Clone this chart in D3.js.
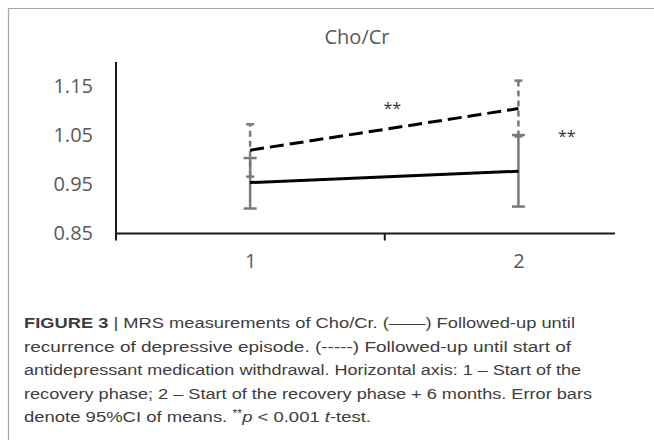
<!DOCTYPE html>
<html><head><meta charset="utf-8">
<script src="https://cdn.jsdelivr.net/npm/d3@7"></script>
<style>body{margin:0;background:#fff}svg{display:block}</style>
</head><body>
<script>
// ---- data ----
const timepoints = [1, 2];
const recurrenceMean = [0.954, 0.977];   // solid line
const recurrenceLow  = [0.901, 0.905];
const recurrenceHigh = [1.004, 1.051];
const withdrawalMean = [1.020, 1.105];   // dashed line
const withdrawalLow  = [0.966, 1.048];
const withdrawalHigh = [1.073, 1.162];
const yTicks = [0.85, 0.95, 1.05, 1.15];
const significance = [{x: 1.53, y: 1.094, label: "**"}, {x: 2.18, y: 1.036, label: "**"}];
const chartTitle = "Cho/Cr";

const W = 654, H = 440;
const svg = d3.select("body").append("svg").attr("width", W).attr("height", H);

// frame (top & left border)
svg.append("path").attr("d", "M8.5,440V8.5H654").attr("fill", "none")
  .attr("stroke", "#a6a6a6").attr("stroke-width", 1.2);

const x = d3.scaleLinear().domain([0.5, 2.36]).range([116, 615]);
const y = d3.scaleLinear().domain([0.85, 1.20]).range([233.5, 62]);

// title
svg.append("text").attr("x", 357).attr("y", 44).attr("text-anchor", "middle")
  .attr("font-family", "'Open Sans', sans-serif").attr("font-size", 20)
  .attr("fill", "#595959").text(chartTitle);

// y axis
const yAxis = svg.append("g").attr("transform", `translate(${x(0.5)},0)`)
  .call(d3.axisLeft(y).tickValues(yTicks).tickSize(0).tickPadding(23).tickFormat(d3.format(".2f")));
yAxis.select(".domain").attr("d", `M0,${y(1.20)}V${y(0.85) + 7}`).attr("stroke", "#1a1a1a").attr("stroke-width", 2);
yAxis.selectAll("text").attr("font-family", "'Open Sans', sans-serif").attr("font-size", 20).attr("fill", "#595959");

// x axis
const xAxis = svg.append("g").attr("transform", `translate(0,${y(0.85)})`)
  .call(d3.axisBottom(x).tickValues([1.5]).tickSize(7).tickFormat(""));
xAxis.select(".domain").attr("d", `M${x(0.5)},0H${x(2.36)}`).attr("stroke", "#1a1a1a").attr("stroke-width", 2);
xAxis.selectAll(".tick line").attr("stroke", "#1a1a1a").attr("stroke-width", 2);
const xLab = svg.append("g").attr("transform", `translate(0,${y(0.85)})`)
  .call(d3.axisBottom(x).tickValues(timepoints).tickSize(0).tickPadding(20).tickFormat(d3.format("d")));
xLab.select(".domain").remove();
xLab.selectAll("text").attr("font-family", "'Open Sans', sans-serif").attr("font-size", 20).attr("fill", "#595959");

// error bars
function errorBars(lo, hi, capW, dash) {
  const g = svg.append("g").attr("stroke", "#7a7a7a").attr("stroke-width", 2.5).attr("fill", "none");
  timepoints.forEach((t, i) => {
    g.append("line").attr("x1", x(t)).attr("x2", x(t)).attr("y1", y(lo[i])).attr("y2", y(hi[i]))
      .attr("stroke-dasharray", dash);
    [lo[i], hi[i]].forEach(v => g.append("line").attr("x1", x(t) - capW / 2).attr("x2", x(t) + capW / 2)
      .attr("y1", y(v)).attr("y2", y(v)));
  });
}
errorBars(withdrawalLow, withdrawalHigh, 8, "6,4");
errorBars(recurrenceLow, recurrenceHigh, 13, null);

// lines
const line = d3.line().x((d, i) => x(timepoints[i])).y(d => y(d));
svg.append("path").datum(recurrenceMean).attr("d", line).attr("fill", "none")
  .attr("stroke", "#000").attr("stroke-width", 3);
svg.append("path").datum(withdrawalMean).attr("d", line).attr("fill", "none")
  .attr("stroke", "#000").attr("stroke-width", 3).attr("stroke-dasharray", "14,6");

// significance marks
svg.selectAll(".sig").data(significance).enter().append("text")
  .attr("x", d => x(d.x)).attr("y", d => y(d.y)).attr("text-anchor", "middle")
  .attr("font-family", "'Open Sans', sans-serif").attr("font-size", 16).attr("fill", "#333")
  .text(d => d.label);

// caption
const capFont = "'Liberation Sans', Arial, sans-serif";
const cap = svg.append("g").attr("font-family", capFont).attr("font-size", 15.5).attr("fill", "#3d3d3d");
const capLines = [
  [["FIGURE 3", "b"], [" | MRS measurements of Cho/Cr. (\u2014\u2014)  Followed-up until", ""]],
  [["recurrence of depressive episode. (-----) Followed-up until start of", ""]],
  [["antidepressant medication withdrawal. Horizontal axis: 1 \u2013 Start of the", ""]],
  [["recovery phase; 2 \u2013 Start of the recovery phase + 6 months. Error bars", ""]],
  [["denote 95%CI of means. ", ""], ["**", "sup"], ["p", "i"], [" < 0.001 ", ""], ["t", "i"], ["-test.", ""]]
];
const capLens = [551, 547, 557, 568, 347];
capLines.forEach((parts, li) => {
  const t = cap.append("text").attr("x", 24).attr("y", 328 + li * 23.5)
    .attr("textLength", capLens[li]).attr("lengthAdjust", "spacingAndGlyphs");
  parts.forEach(([s, k]) => {
    const sp = t.append("tspan").text(s);
    if (k === "b") sp.attr("font-weight", "bold");
    if (k === "i") sp.attr("font-style", "italic");
    if (k === "sup") sp.attr("font-size", 10.5).attr("dy", -5);
    if (k === "i" && s === "p") sp.attr("dy", 5);
  });
});
</script>
</body></html>
